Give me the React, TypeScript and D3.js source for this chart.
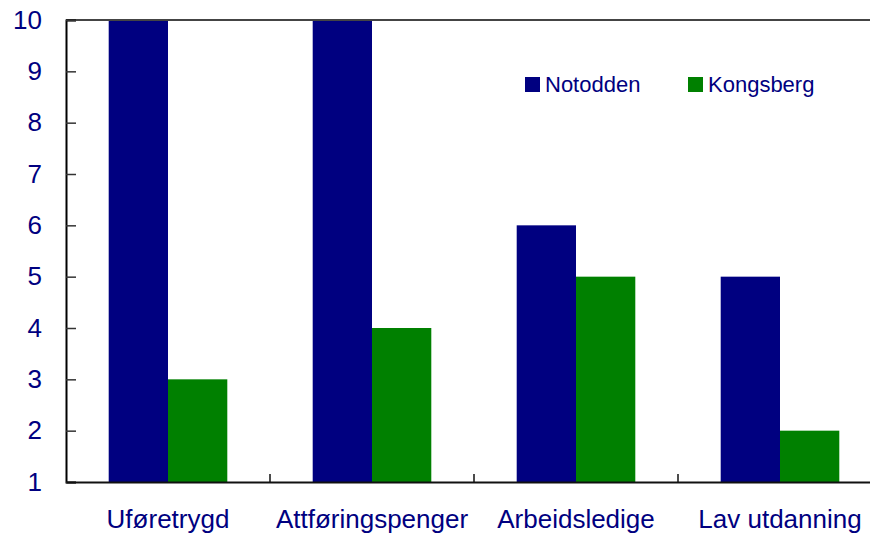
import * as d3 from "d3"
import { useEffect, useRef } from "react"

const categories = ["Uføretrygd", "Attføringspenger", "Arbeidsledige", "Lav utdanning"]
const seriesNames = ["Notodden", "Kongsberg"]
const notodden = [10, 10, 6, 5]
const kongsberg = [3, 4, 5, 2]
const yTicks = [1, 2, 3, 4, 5, 6, 7, 8, 9, 10]
const colors = ["#000080", "#008000"]

const W = 870
const H = 535

export default function App() {
  const svgRef = useRef<SVGSVGElement | null>(null)

  useEffect(() => {
    if (!svgRef.current) return
    const svg = d3.select(svgRef.current)
    svg.selectAll("*").remove()

    const font = "Arial, 'Liberation Sans', sans-serif"
    const left = 66
    const top = 20
    const bottom = 482
    const right = left + 4 * 204

    const x = d3.scaleBand().domain(categories).range([left, right]).padding(0)
    const x1 = d3
      .scaleBand()
      .domain(seriesNames)
      .range([0, x.bandwidth()])
      .paddingInner(0)
      .paddingOuter(0.72)
    const y = d3.scaleLinear().domain([1, 10]).range([bottom, top]).clamp(true)

    const series = [notodden, kongsberg]

    // bars
    seriesNames.forEach((name, si) => {
      svg
        .append("g")
        .selectAll("rect")
        .data(categories)
        .enter()
        .append("rect")
        .attr("x", (c) => x(c)! + x1(name)!)
        .attr("y", (c, i) => y(series[si][i]))
        .attr("width", x1.bandwidth())
        .attr("height", (c, i) => bottom - y(series[si][i]))
        .attr("fill", colors[si])
    })

    // top frame line
    svg
      .append("line")
      .attr("x1", left)
      .attr("x2", W)
      .attr("y1", top)
      .attr("y2", top)
      .attr("stroke", "#444")
      .attr("stroke-width", 2)

    // y axis
    const yAxis = svg
      .append("g")
      .attr("transform", `translate(${left},0)`)
      .call(d3.axisLeft(y).tickValues(yTicks).tickSize(-10).tickPadding(24).tickFormat(d3.format("d")))
    yAxis.select(".domain").attr("stroke", "#000").attr("stroke-width", 2)
    yAxis.selectAll(".tick line").attr("stroke", "#333").attr("stroke-width", 1.5)
    yAxis
      .selectAll(".tick text")
      .style("font", `26px ${font}`)
      .attr("fill", "#000080")

    // x axis
    const xAxis = svg
      .append("g")
      .attr("transform", `translate(0,${bottom})`)
      .call(d3.axisBottom(x).tickSize(0).tickPadding(0))
    xAxis.select(".domain").attr("stroke", "#111").attr("stroke-width", 2)
    xAxis.selectAll(".tick line").remove()
    xAxis
      .selectAll(".tick text")
      .attr("dy", 0)
      .attr("y", 46)
      .style("font", `26px ${font}`)
      .attr("fill", "#000080")

    // category boundary ticks
    svg
      .append("g")
      .selectAll("line")
      .data(categories.slice(1))
      .enter()
      .append("line")
      .attr("x1", (c) => x(c)!)
      .attr("x2", (c) => x(c)!)
      .attr("y1", bottom - 8)
      .attr("y2", bottom)
      .attr("stroke", "#111")
      .attr("stroke-width", 1.5)

    // legend
    const legendX = [525, 688]
    const legend = svg
      .append("g")
      .selectAll("g")
      .data(seriesNames)
      .enter()
      .append("g")
      .attr("transform", (d, i) => `translate(${legendX[i]},77)`)
    legend
      .append("rect")
      .attr("width", 15)
      .attr("height", 15)
      .attr("fill", (d, i) => colors[i])
    legend
      .append("text")
      .attr("x", 20)
      .attr("y", 15)
      .style("font", `22px ${font}`)
      .attr("fill", "#000080")
      .text((d) => d)
  }, [])

  return (
    <svg
      ref={svgRef}
      width={W}
      height={H}
      style={{ position: "absolute", left: 0, top: 0, background: "#fff" }}
    />
  )
}
